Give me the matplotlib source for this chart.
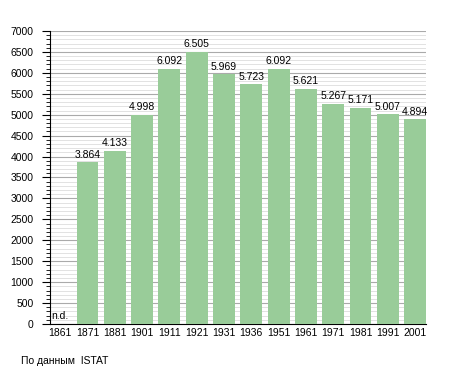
import numpy as np
import matplotlib.pyplot as plt
from matplotlib.ticker import MultipleLocator

plt.rcParams['font.family'] = ['Liberation Sans', 'DejaVu Sans']

years = ['1861', '1871', '1881', '1901', '1911', '1921', '1931', '1936',
         '1951', '1961', '1971', '1981', '1991', '2001']
population = [0, 3864, 4133, 4998, 6092, 6505, 5969, 5723,
              6092, 5621, 5267, 5171, 5007, 4894]
value_labels = ['', '3.864', '4.133', '4.998', '6.092', '6.505', '5.969', '5.723',
                '6.092', '5.621', '5.267', '5.171', '5.007', '4.894']

fig = plt.figure(figsize=(4.55, 3.73), dpi=100)
ax = fig.add_axes([50 / 455, 49 / 373, 376 / 455, 293 / 373])

x = np.arange(len(years))
ax.bar(x, population, width=0.8, color='#99cc99', zorder=3)

for xi, v, lab in zip(x, population, value_labels):
    if lab:
        ax.text(xi, v + 60, lab, ha='center', va='bottom', fontsize=7.5, zorder=4)
ax.text(-0.32, 60, 'n.d.', ha='left', va='bottom', fontsize=7.5, zorder=4)

ax.set_xlim(-0.374, 13.40)
ax.set_ylim(0, 7000)
ax.set_xticks(x)
ax.set_xticklabels(years, fontsize=7.5)
ax.tick_params(axis='x', length=0, pad=3)
ax.yaxis.set_major_locator(MultipleLocator(500))
ax.yaxis.set_minor_locator(MultipleLocator(100))
ax.tick_params(axis='y', which='major', length=6, labelsize=7.5, pad=6)
ax.tick_params(axis='y', which='minor', length=3)
ax.grid(axis='y', which='major', color='#aaaaaa', linewidth=0.8, zorder=0)
ax.grid(axis='y', which='minor', color='#dddddd', linewidth=0.6, zorder=0)
for side in ['top', 'right']:
    ax.spines[side].set_visible(False)

fig.text(21 / 455, 1 - 361 / 373, 'По данным  ISTAT', fontsize=7.5, va='center')

fig.savefig('out.png', dpi=100)
